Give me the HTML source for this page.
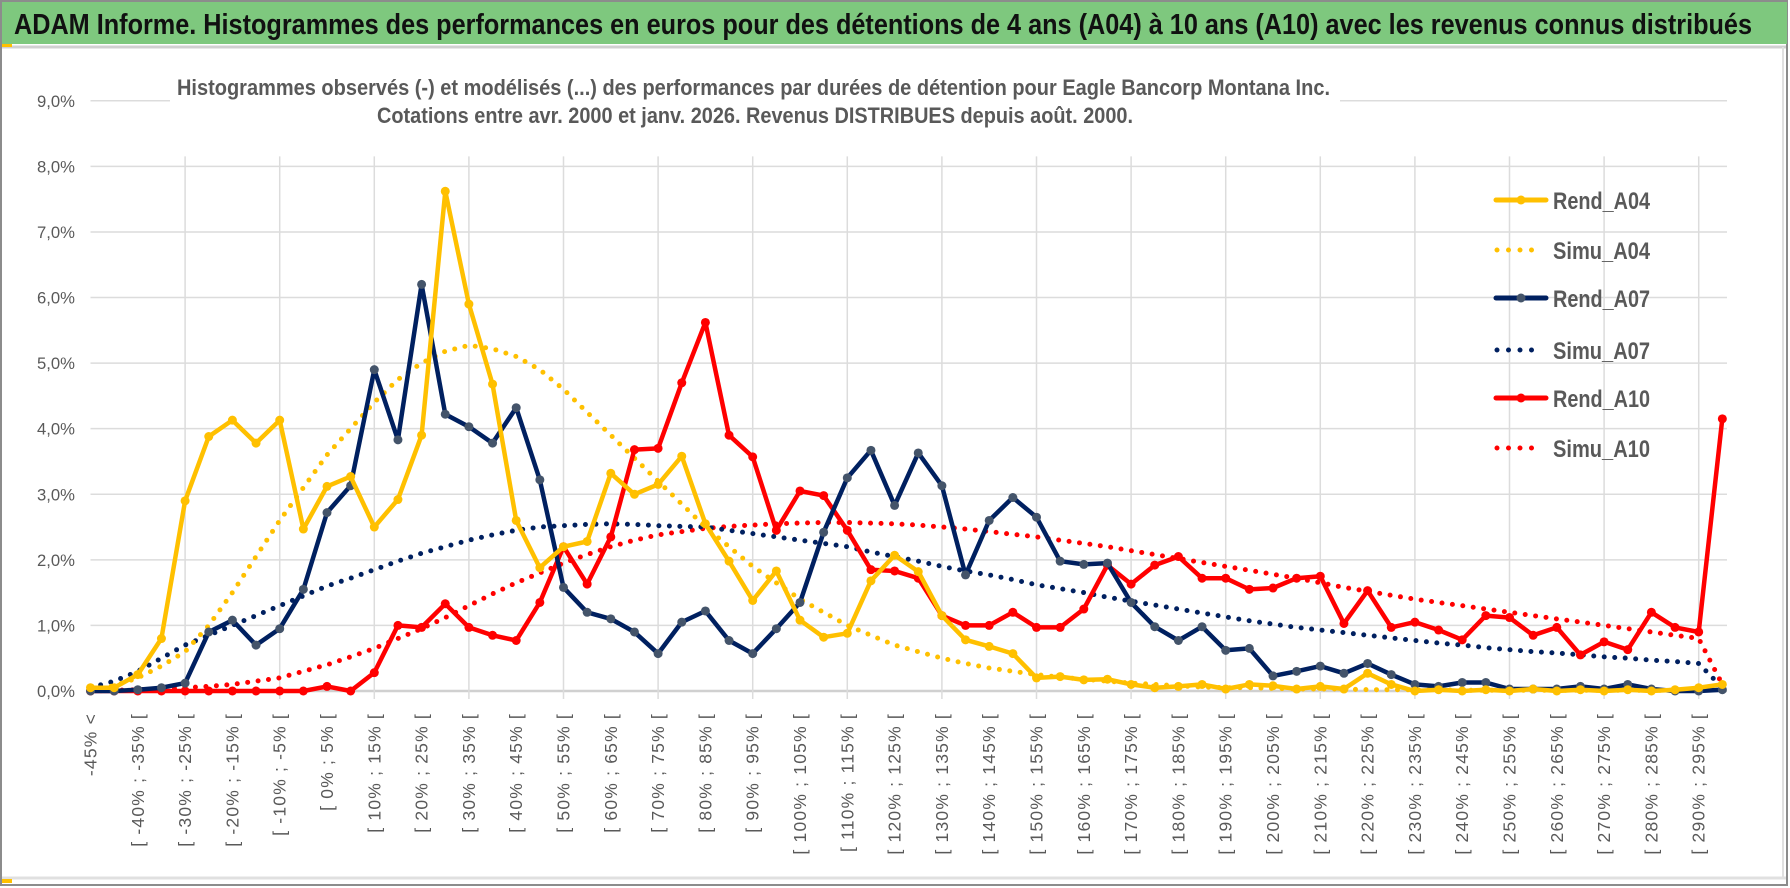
<!DOCTYPE html>
<html><head><meta charset="utf-8"><style>
html,body{margin:0;padding:0;background:#fff;width:1790px;height:888px;overflow:hidden}
svg{display:block}
text{font-family:"Liberation Sans","DejaVu Sans",sans-serif}
</style></head><body>
<svg id="chart" width="1790" height="888" viewBox="0 0 1790 888">
<rect x="0" y="0" width="1790" height="888" fill="#fff"/>
<rect x="1" y="1" width="1786" height="884" fill="none" stroke="#8c8c8c" stroke-width="2"/>
<rect x="2" y="2" width="1785" height="42" fill="#7ec87e"/>
<text x="14" y="34" font-size="29" font-weight="bold" fill="#111" textLength="1738" lengthAdjust="spacingAndGlyphs">ADAM Informe. Histogrammes des performances en euros pour des détentions de 4 ans (A04) à 10 ans (A10) avec les revenus connus distribués</text>
<line x1="2" y1="47" x2="1786" y2="47" stroke="#d0d0d0" stroke-width="3"/>
<line x1="2" y1="878" x2="1786" y2="878" stroke="#e0e0e0" stroke-width="3"/>
<line x1="1783" y1="47" x2="1783" y2="878" stroke="#e0e0e0" stroke-width="2"/>
<rect x="2" y="44" width="10" height="3" fill="#ffc000"/>
<rect x="2" y="879" width="10" height="4" fill="#ffc000"/>
<g id="grid"></g>
<g id="ylabels"></g>
<g id="xlabels"></g>
<rect x="170" y="66" width="1170" height="64" fill="#fff"/>
<text x="177" y="95" font-size="22" font-weight="bold" fill="#595959" textLength="1153" lengthAdjust="spacingAndGlyphs">Histogrammes observés (-) et modélisés (...) des performances par durées de détention pour Eagle Bancorp Montana Inc.</text>
<text x="377" y="123" font-size="22" font-weight="bold" fill="#595959" textLength="756" lengthAdjust="spacingAndGlyphs">Cotations entre avr. 2000 et janv. 2026. Revenus DISTRIBUES depuis août. 2000.</text>
<g id="series"></g>
<g id="legend"></g>
</svg>
<script>
const categories = ["-45% <"];
for (let a = -45; a < 300; a += 5) categories.push("[ " + a + "% ; " + (a + 5) + "% [");
const yTicks = [0,1,2,3,4,5,6,7,8,9];
const rendA04 = [0.05,0.05,0.25,0.8,2.9,3.88,4.13,3.78,4.13,2.47,3.12,3.27,2.5,2.92,3.9,7.62,5.9,4.68,2.6,1.88,2.2,2.28,3.32,3.0,3.15,3.58,2.55,1.98,1.38,1.83,1.08,0.82,0.88,1.68,2.07,1.82,1.15,0.78,0.68,0.57,0.2,0.22,0.17,0.18,0.1,0.05,0.07,0.1,0.03,0.1,0.08,0.03,0.07,0.03,0.27,0.1,0.0,0.02,0.0,0.02,0.0,0.03,0.0,0.02,0.0,0.02,0.0,0.02,0.05,0.1];
const simuA04 = [0.02,0.08,0.2,0.38,0.6,1.0,1.5,2.05,2.6,3.1,3.6,4.0,4.4,4.75,5.0,5.18,5.27,5.22,5.1,4.9,4.6,4.25,3.9,3.55,3.2,2.85,2.5,2.2,1.9,1.65,1.4,1.2,1.0,0.85,0.7,0.6,0.5,0.42,0.35,0.3,0.25,0.21,0.18,0.15,0.12,0.1,0.08,0.06,0.05,0.05,0.04,0.03,0.03,0.03,0.02,0.02,0.02,0.02,0.01,0.01,0.01,0.01,0.01,0.01,0.01,0.01,0.01,0.01,0.01,0.1];
const rendA07 = [0.0,0.0,0.02,0.05,0.12,0.9,1.08,0.7,0.95,1.55,2.72,3.13,4.9,3.83,6.2,4.22,4.03,3.78,4.32,3.22,1.58,1.2,1.1,0.9,0.57,1.05,1.22,0.77,0.57,0.95,1.35,2.42,3.25,3.67,2.83,3.63,3.13,1.77,2.6,2.95,2.65,1.98,1.93,1.95,1.35,0.98,0.77,0.98,0.62,0.65,0.23,0.3,0.38,0.27,0.42,0.25,0.1,0.07,0.13,0.13,0.03,0.03,0.03,0.07,0.03,0.1,0.03,0.0,0.0,0.02];
const simuA07 = [0.05,0.15,0.3,0.5,0.7,0.85,1.0,1.15,1.3,1.45,1.6,1.72,1.85,1.98,2.1,2.2,2.3,2.38,2.45,2.5,2.52,2.54,2.55,2.54,2.52,2.51,2.5,2.45,2.4,2.35,2.3,2.25,2.2,2.12,2.05,1.98,1.9,1.83,1.77,1.7,1.62,1.56,1.5,1.43,1.37,1.31,1.25,1.19,1.13,1.07,1.02,0.97,0.93,0.89,0.85,0.81,0.77,0.73,0.7,0.66,0.63,0.6,0.58,0.55,0.52,0.5,0.47,0.45,0.42,0.05];
const rendA10 = [0.0,0.0,0.0,0.0,0.0,0.0,0.0,0.0,0.0,0.0,0.07,0.0,0.28,1.0,0.97,1.33,0.97,0.85,0.77,1.35,2.2,1.63,2.35,3.68,3.7,4.7,5.62,3.9,3.57,2.45,3.05,2.98,2.45,1.85,1.83,1.72,1.15,1.0,1.0,1.2,0.97,0.97,1.25,1.92,1.63,1.92,2.05,1.72,1.72,1.55,1.57,1.72,1.75,1.03,1.53,0.97,1.05,0.93,0.78,1.15,1.12,0.85,0.97,0.55,0.75,0.63,1.2,0.97,0.9,4.15];
const simuA10 = [0.0,0.01,0.02,0.03,0.05,0.07,0.1,0.15,0.2,0.3,0.4,0.52,0.65,0.8,0.95,1.12,1.3,1.48,1.65,1.8,1.95,2.08,2.2,2.3,2.38,2.43,2.48,2.51,2.53,2.55,2.56,2.57,2.57,2.56,2.55,2.53,2.5,2.47,2.43,2.39,2.35,2.3,2.25,2.2,2.14,2.08,2.02,1.96,1.9,1.84,1.78,1.72,1.65,1.58,1.52,1.46,1.4,1.35,1.3,1.25,1.2,1.15,1.1,1.05,1.0,0.95,0.9,0.85,0.8,0.1];

const NS = "http://www.w3.org/2000/svg";
const X0 = 90.5, DX = 23.65, Y0 = 691, PER = 65.58, XR = 1727;
const xPos = i => X0 + i * DX;
const yPos = v => Y0 - v * PER;
function mk(tag, attrs, parent) {
  const el = document.createElementNS(NS, tag);
  for (const k in attrs) el.setAttribute(k, attrs[k]);
  parent.appendChild(el);
  return el;
}
const grid = document.getElementById('grid');
yTicks.forEach(t => {
  const l = mk('line', {x1: X0, x2: XR, y1: yPos(t), y2: yPos(t), stroke: t === 0 ? '#d0d0d0' : '#dcdcdc', 'stroke-width': t === 0 ? 2.5 : 1.5}, grid);
  
  
  const tx = mk('text', {x: 75, y: yPos(t) + 6, 'text-anchor': 'end', 'font-size': 17, fill: '#595959', textLength: 38, lengthAdjust: 'spacingAndGlyphs'}, document.getElementById('ylabels'));
  tx.textContent = t.toFixed(1).replace('.', ',') + '%';
  
  
});
for (let i = 4; i < categories.length; i += 4) {
  const l = mk('line', {x1: xPos(i), x2: xPos(i), y1: yPos(8) - 10, y2: Y0 + 8, stroke: '#dcdcdc', 'stroke-width': 1.5}, grid);
  
  
}
const xl = document.getElementById('xlabels');
categories.forEach((c, i) => {
  if (i % 2 !== 0) return;
  const x = xPos(i) + 6, y = 713;
  const t = mk('text', {x: x, y: y, transform: `rotate(-90 ${x} ${y})`, 'text-anchor': 'end', 'font-size': 17.5, 'letter-spacing': 1.2, fill: '#595959', 'font-family': '"DejaVu Sans",sans-serif'}, xl);
  t.textContent = c;
  
  
});
const sg = document.getElementById('series');
function drawLine(data, color, markerColor, name) {
  const d = data.map((v, i) => (i ? 'L' : 'M') + xPos(i).toFixed(1) + ' ' + yPos(v).toFixed(1)).join(' ');
  const p = mk('path', {d: d, fill: 'none', stroke: color, 'stroke-width': 4.5, 'stroke-linejoin': 'round'}, sg);
  
  
  data.forEach((v, i) => {
    const c = mk('circle', {cx: xPos(i), cy: yPos(v), r: 4.5, fill: markerColor}, sg);
    
    
  });
}
function drawDots(data, color, name) {
  const d = data.map((v, i) => (i ? 'L' : 'M') + xPos(i).toFixed(1) + ' ' + yPos(v).toFixed(1)).join(' ');
  const p = mk('path', {d: d, fill: 'none', stroke: color, 'stroke-width': 5, 'stroke-linecap': 'round', 'stroke-dasharray': '0 10.5'}, sg);
  
  
}
drawDots(simuA10, '#ff0000', 'simu-a10');
drawDots(simuA07, '#002060', 'simu-a07');
drawDots(simuA04, '#ffc000', 'simu-a04');
drawLine(rendA10, '#ff0000', '#ff0000', 'rend-a10');
drawLine(rendA07, '#002060', '#44546a', 'rend-a07');
drawLine(rendA04, '#ffc000', '#ffc000', 'rend-a04');

const lg = document.getElementById('legend');
const entries = [['Rend_A04', '#ffc000', '#ffc000', false, 200], ['Simu_A04', '#ffc000', '', true, 250], ['Rend_A07', '#002060', '#44546a', false, 298], ['Simu_A07', '#002060', '', true, 350], ['Rend_A10', '#ff0000', '#ff0000', false, 398], ['Simu_A10', '#ff0000', '', true, 448]];
entries.forEach(e => {
  const g = mk('g', {}, lg);
  
  
  if (e[3]) {
    mk('line', {x1: 1497, x2: 1540, y1: e[4], y2: e[4], stroke: e[1], 'stroke-width': 5, 'stroke-linecap': 'round', 'stroke-dasharray': '0 11.5'}, g);
  } else {
    mk('line', {x1: 1496, x2: 1546, y1: e[4], y2: e[4], stroke: e[1], 'stroke-width': 5, 'stroke-linecap': 'round'}, g);
    mk('circle', {cx: 1521, cy: e[4], r: 4.5, fill: e[2]}, g);
  }
  const t = mk('text', {x: 1553, y: e[4] + 9, 'font-size': 24, 'font-weight': 'bold', fill: '#595959', textLength: 97, lengthAdjust: 'spacingAndGlyphs'}, g);
  t.textContent = e[0];
});
</script>
</body></html>
